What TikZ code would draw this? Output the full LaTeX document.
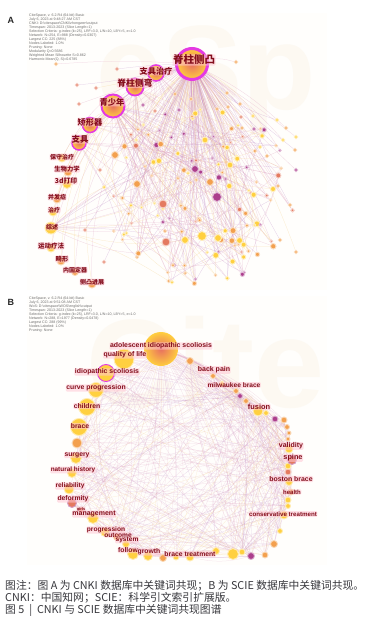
\documentclass[tikz,border=0pt]{standalone}
\usepackage{fontspec}
\setmainfont{Liberation Sans}
\newfontfamily\cjk{Noto Sans CJK SC}
\usetikzlibrary{positioning, calc}
\pgfdeclarelayer{bg}
\pgfdeclarelayer{links}
\pgfsetlayers{bg,links,main}
\definecolor{dotyel}{RGB}{255,208,64}
\definecolor{dotorg}{RGB}{243,160,78}
\definecolor{dotsal}{RGB}{228,122,96}
\definecolor{dotpur}{RGB}{172,62,140}
\definecolor{hubcore}{RGB}{232,112,96}
\definecolor{hubyel}{RGB}{255,206,62}
\definecolor{cring}{RGB}{228,58,226}
\definecolor{labred}{RGB}{132,14,28}
\definecolor{labpink}{RGB}{255,200,212}
\definecolor{edgepink}{RGB}{222,160,192}
\definecolor{edgepur}{RGB}{192,140,200}
\definecolor{edgeyel}{RGB}{246,208,136}
\definecolor{wmark}{RGB}{253,249,242}
\definecolor{panelbg}{RGB}{255,254,252}
\definecolor{headgray}{RGB}{110,110,110}
\definecolor{capgray}{RGB}{55,55,60}
\pgfmathdeclarerandomlist{dcol}{{dotyel}{dotyel}{dotorg}{dotorg}{dotorg}{dotsal}{dotpur}}
\pgfmathdeclarerandomlist{ecol}{{edgepink}{edgepink}{edgepur}{edgeyel}}
\pgfmathdeclarerandomlist{amaj}{{jz}{jz}{jz}{qsn}{qsn}{jzcw}{zjzl}{jxq}{zj}{zs}}

\begin{document}
\begin{tikzpicture}[x=1pt, y=-1pt,
  dot/.style={circle, inner sep=0pt, minimum size=#1, line width=0.9pt},
  kw/.style={circle, inner sep=0pt, minimum size=#1, inner color=hubcore, outer color=hubyel},
  cent/.style={draw=cring, line width=#1},
  lnk/.style={draw=#1, line width=0.25pt, opacity=0.45},
  lnkb/.style={draw=#1, line width=0.25pt, opacity=0.32},
  lbl/.style={text=labred, fill=labpink, fill opacity=0.55, text opacity=1, inner sep=0.5pt, rounded corners=1.2pt, font=\bfseries\fontsize{#1}{#1}\selectfont},
  clbl/.style={text=labred, fill=labpink, fill opacity=0.55, text opacity=1, inner sep=0.5pt, rounded corners=1.2pt, font=\cjk\bfseries\fontsize{#1}{#1}\selectfont},
  head/.style={align=left, anchor=north west, inner sep=0pt, text=headgray, font=\fontsize{3.6}{3.95}\selectfont},
  panel/.style={font=\bfseries\fontsize{9}{9}\selectfont, text=black!85},
  captxt/.style={anchor=west, inner sep=0pt, text=capgray, font=\cjk\fontsize{10.8}{12}\selectfont}
]
\useasboundingbox (0,0) rectangle (372,632);
\pgfmathsetseed{2023}

% Watermarks behind both maps
\begin{pgfonlayer}{bg}
  \fill[panelbg] (27,13) rectangle (327,290);
  \fill[panelbg] (27,296) rectangle (327,565);
  \begin{scope}
    \clip (27,13) rectangle (327,290);
    \node[text=wmark, anchor=west, inner sep=0pt, font=\bfseries\fontsize{120}{120}\selectfont] (wmA) at (96,80) {eSp};
  \end{scope}
  \begin{scope}
    \clip (27,296) rectangle (327,565);
    \node[text=wmark, anchor=west, inner sep=0pt, font=\bfseries\fontsize{126}{126}\selectfont] (wmB) at (86,362) {Cite};
  \end{scope}
\end{pgfonlayer}

% ---------------- Panel A ----------------
\node[panel] (pA) at (11,20) {A};
\node[head] (hA) at (29,14) {CiteSpace, v. 6.2.R4 (64-bit) Basic\\
July 6, 2023 at 9:48:27 AM CST\\
CNKI: D:\textbackslash citespace\textbackslash CNKI\textbackslash zhongwen\textbackslash output\\
Timespan: 2013-2023 (Slice Length=1)\\
Selection Criteria: g-index (k=25), LRF=3.0, L/N=10, LBY=5, e=1.0\\
Network: N=254, E=988 (Density=0.0307)\\
Largest CC: 225 (88\%)\\
Nodes Labeled: 1.0\%\\
Pruning: None\\
Modularity Q=0.5686\\
Weighted Mean Silhouette S=0.862\\
Harmonic Mean(Q, S)=0.6785};

% scattered keywords
\foreach \i in {1,...,130} {
  \pgfmathsetmacro\ang{360*rnd}
  \pgfmathsetmacro\rad{sqrt(rnd)}
  \pgfmathsetmacro\px{200+100*\rad*cos(\ang)}
  \pgfmathsetmacro\py{196+90*\rad*sin(\ang)}
  \pgfmathsetmacro\ds{2.6+3.6*rnd^3}
  \pgfmathrandomitem{\dc}{dcol}
  \node[dot=\ds, fill=\dc, draw=\dc!35] (a\i) at (\px,\py) {};
}
\foreach \x/\y/\c [count=\i] in {56/64/dotorg, 236/62/dotorg, 117/69/dotsal, 77/85/dotsal,
    96/88/dotsal, 79/104/dotsal, 143/105/dotpur, 179/110/dotpur, 175/94/dotorg, 191/99/dotorg,
    155/111/dotsal, 227/93/dotorg, 240/104/dotorg, 228/107/dotorg, 217/109/dotorg, 253/116/dotyel,
    241/117/dotsal, 277/120/dotyel, 286/128/dotorg, 296/137/dotyel, 283/140/dotyel, 254/129/dotpur,
    242/128/dotorg, 260/147/dotyel, 295/150/dotorg, 267/156/dotorg, 296/170/dotpur, 278/186/dotorg,
    290/205/dotorg, 296/252/dotorg, 280/240/dotorg, 100/170/dotsal, 85/230/dotsal, 104/262/dotsal}
  \node[dot=3.4, fill=\c, draw=\c!35] (u\i) at (\x,\y) {};
\foreach \x/\y/\s/\c [count=\i] in {217/197/9/dotpur, 166/242/8/dotsal, 202/236/9/dotyel,
    163/204/8/dotsal, 195/169/7/dotpur, 137/184/7/dotorg, 210/182/7/dotorg, 115/155/7/dotorg,
    185/240/7/dotyel, 218/238/7/dotyel, 205/140/6/dotyel, 230/165/6/dotyel}
  \node[dot=\s, fill=\c, draw=\c!35] (b\i) at (\x,\y) {};

% main keywords
\node[kw=31, cent=3pt] (jz) at (192,64) {};
\node[kw=16, cent=1.6pt] (zjzl) at (156,73) {};
\node[kw=17, cent=1.8pt] (jzcw) at (135,87) {};
\node[kw=23, cent=2pt] (qsn) at (113,106) {};
\node[kw=15, cent=1.5pt] (jxq) at (90,125) {};
\node[kw=14, cent=1.5pt] (zj) at (79,143) {};
\node[dot=8, fill=dotyel, draw=dotyel!40] (bszl) at (62,158) {};
\node[dot=8, fill=dotorg, draw=dotorg!40] (swlx) at (68,172) {};
\node[dot=9, fill=dotyel, draw=dotyel!40] (dyp) at (67,184) {};
\node[dot=8, fill=dotorg, draw=dotorg!40] (bfz) at (57,199) {};
\node[dot=8, fill=dotyel, draw=dotyel!40] (zl) at (53,212) {};
\node[dot=12, fill=dotyel, draw=dotyel!40] (zs) at (51,228) {};
\node[dot=8, fill=dotyel, draw=dotyel!40] (ydlf) at (51,248) {};
\node[dot=8, fill=dotorg, draw=dotorg!40] (jx) at (61,261) {};
\node[dot=7, fill=dotorg, draw=dotorg!40] (ngdq) at (75,272) {};
\node[dot=8, fill=dotorg, draw=dotorg!40] (cjz) at (92,284) {};

\node[clbl=10.5] (l-jz) at (194,60) {脊柱侧凸};
\node[clbl=8.2] (l-zjzl) at (156,71) {支具治疗};
\node[clbl=8.8] (l-jzcw) at (135,83) {脊柱侧弯};
\node[clbl=8.3] (l-qsn) at (112,102) {青少年};
\node[clbl=8.2] (l-jxq) at (90,122) {矫形器};
\node[clbl=8.4] (l-zj) at (80,139) {支具};
\node[clbl=6] (l-bszl) at (62,157) {保守治疗};
\node[clbl=6.3] (l-swlx) at (67,169) {生物力学};
\node[clbl=6.8] (l-dyp) at (66,181) {3d打印};
\node[clbl=6] (l-bfz) at (57,197) {并发症};
\node[clbl=6] (l-zl) at (54,210) {治疗};
\node[clbl=6] (l-zs) at (52,227) {综述};
\node[clbl=6.5] (l-ydlf) at (51,246) {运动疗法};
\node[clbl=6.3] (l-jx) at (62,259) {畸形};
\node[clbl=6] (l-ngdq) at (75,270) {内固定器};
\node[clbl=6] (l-cjz) at (92,282) {侧凸进展};

% co-occurrence links A
\begin{pgfonlayer}{links}
  \foreach \i in {1,...,130} {
    \pgfmathtruncatemacro\ok{rnd<0.7}
    \pgfmathsetmacro\bb{36*rnd-18}
    \pgfmathrandomitem{\ec}{ecol}
    \ifnum\ok=1 \draw[lnk=\ec] (jz) to[bend left=\bb] (a\i); \fi
    \pgfmathrandomitem{\mj}{amaj}
    \draw[lnk=\ec] (\mj) to[bend right=\bb] (a\i);
    \pgfmathtruncatemacro\j{random(1,130)}
    \ifnum\j=\i\else \draw[lnk=\ec] (a\i) to[bend left=\bb] (a\j); \fi
  }
  \foreach \i in {1,...,34} {
    \pgfmathsetmacro\bb{30*rnd-15}
    \pgfmathrandomitem{\ec}{ecol}
    \draw[lnk=\ec] (jz) to[bend left=\bb] (u\i);
  }
  \foreach \i in {1,...,12} {
    \draw[lnk=edgepur] (jz) to[bend left=8] (b\i);
    \draw[lnk=edgepink] (qsn) to[bend right=10] (b\i);
  }
  \foreach \n in {bszl,swlx,dyp,bfz,zl,zs,ydlf,jx,ngdq,cjz} {
    \draw[lnk=edgepink] (jz) to[bend right=25] (\n);
    \draw[lnk=edgeyel] (qsn) to[bend right=15] (\n);
  }
  \foreach \n in {zjzl,jzcw,qsn,jxq,zj} \draw[lnk=edgepur] (jz) to[bend right=10] (\n);
\end{pgfonlayer}

% ---------------- Panel B ----------------
\node[panel] (pB) at (11,302) {B};
\node[head] (hB) at (29,297) {CiteSpace, v. 6.2.R4 (64-bit) Basic\\
July 6, 2023 at 9:51:08 AM CST\\
WoS: D:\textbackslash citespace\textbackslash WOS\textbackslash english\textbackslash output\\
Timespan: 2013-2023 (Slice Length=1)\\
Selection Criteria: g-index (k=25), LRF=3.0, L/N=10, LBY=5, e=1.0\\
Network: N=288, E=1977 (Density=0.0478)\\
Largest CC: 288 (99\%)\\
Nodes Labeled: 1.0\%\\
Pruning: None};

\node[kw=34] (r1) at (161,349) {};
\foreach \x/\y/\s/\f/\h [count=\i from 2] in {124/359/20/dotyel/dotyel!40, 106/373/17/dotyel/cring,
    96/390/15/dotyel/dotyel!40, 87/407/17/dotyel/dotyel!40, 79/427/17/dotyel/dotyel!40,
    77/443/10/dotorg/dotorg!40, 76/458/11/dotyel/dotyel!40, 72/473/9/dotyel/dotyel!40,
    69/489/10/dotyel/dotyel!40, 72/503/9/dotsal/dotpur!50, 81/510/6/dotsal/dotsal!40,
    93/518/11/dotyel/dotyel!40, 105/532/9/dotyel/dotyel!40, 117/537/7/dotorg/dotorg!40,
    126/544/7/dotyel/dotyel!40, 133/554/11/dotyel/dotyel!40, 148/556/9/dotyel/dotyel!40,
    163/558/7/dotorg/dotorg!40, 176/557/6/dotyel/dotyel!40, 190/557/8/dotyel/dotyel!40,
    216/551/7/dotyel/dotyel!40, 233/554/11/dotyel/dotyel!40, 242/552/6/dotyel/dotyel!40,
    251/556/7/dotpur/dotpur!40, 265/555/6/dotorg/dotorg!40, 274/544/7/dotorg/dotorg!40,
    280/531/5/dotyel/dotyel!40, 284/515/8/dotyel/dotyel!40, 288/506/5/dotyel/dotyel!40,
    288/500/6/dotyel/dotyel!40, 291/492/6/dotorg/dotorg!40, 289/482/7/dotyel/dotyel!40,
    288/472/6/dotsal/dotsal!40, 288/466/6/dotyel/dotyel!40, 292/460/9/dotsal/dotpur!50,
    289/449/8/dotyel/dotyel!40, 288/439/4/dotorg/dotorg!40, 289/433/4/dotorg/dotorg!40,
    287/427/5/dotorg/dotorg!40, 284/420/6/dotorg/dotorg!40, 275/419/6/dotpur/dotpur!40,
    266/413/5/dotyel/dotyel!40, 258/411/10/dotyel/dotyel!40, 246/401/5/dotorg/dotorg!40,
    240/396/5/dotpur/dotpur!40, 236/391/5/dotorg/dotorg!40, 222/384/5/dotyel/dotyel!40,
    213/376/5/dotorg/dotorg!40, 190/361/7/dotorg/dotorg!40}
  \node[dot=\s, fill=\f, draw=\h] (r\i) at (\x,\y) {};

% co-occurrence links B
\begin{pgfonlayer}{links}
  \foreach \k in {1,...,360} {
    \pgfmathtruncatemacro\a{random(1,50)}
    \pgfmathtruncatemacro\b{mod(\a-1+random(2,48),50)+1}
    \pgfmathsetmacro\bb{30*rnd-15}
    \pgfmathrandomitem{\ec}{ecol}
    \draw[lnkb=\ec] (r\a) to[bend left=\bb] (r\b);
  }
  \foreach \i in {3,...,50} \draw[lnkb=edgepink] (r1) to[bend left=12] (r\i);
\end{pgfonlayer}

\node[lbl=6.9] (l-ais) at (161,346) {adolescent idiopathic scoliosis};
\node[lbl=6.9] (l-qol) at (125,355) {quality of life};
\node[lbl=6.9] (l-is) at (107,372) {idiopathic scoliosis};
\node[lbl=6.8] (l-cp) at (96,388) {curve progression};
\node[lbl=6.8] (l-chi) at (87,406) {children};
\node[lbl=6.8] (l-bra) at (80,426) {brace};
\node[lbl=6.8] (l-sur) at (77,455) {surgery};
\node[lbl=6.4] (l-nh) at (73,470) {natural history};
\node[lbl=6.6] (l-rel) at (70,486) {reliability};
\node[lbl=6.8] (l-def) at (73,499) {deformity};
\node[lbl=4, opacity=0.5] (l-gir) at (81,509) {girls};
\node[lbl=7] (l-man) at (94,514) {management};
\node[lbl=6.6] (l-pro) at (106,530) {progression};
\node[lbl=6.6] (l-out) at (118,535) {outcome};
\node[lbl=6.6] (l-sys) at (127,540) {system};
\node[lbl=6.8] (l-fol) at (128,550) {follow};
\node[lbl=6.8] (l-gro) at (149,552) {growth};
\node[lbl=6.8] (l-bt) at (190,554) {brace treatment};
\node[lbl=7] (l-bp) at (214,370) {back pain};
\node[lbl=6.6] (l-mb) at (234,385) {milwaukee brace};
\node[lbl=7.4] (l-fus) at (259,407) {fusion};
\node[lbl=7] (l-val) at (291,446) {validity};
\node[lbl=7.3] (l-spi) at (293,458) {spine};
\node[lbl=6.9] (l-bb) at (291,479) {boston brace};
\node[lbl=6] (l-hea) at (292,492) {health};
\node[lbl=6.2] (l-ct) at (283,514) {conservative treatment};

% ---------------- Caption ----------------
\node[captxt] (cap1) at (5,586) {图注：图 A 为 CNKI 数据库中关键词共现；B 为 SCIE 数据库中关键词共现。};
\node[captxt] (cap2) at (5,598) {CNKI：中国知网；SCIE：科学引文索引扩展版。};
\node[captxt] (cap3) at (5,610) {图 5 \ | \ CNKI 与 SCIE 数据库中关键词共现图谱};
\end{tikzpicture}
\end{document}
